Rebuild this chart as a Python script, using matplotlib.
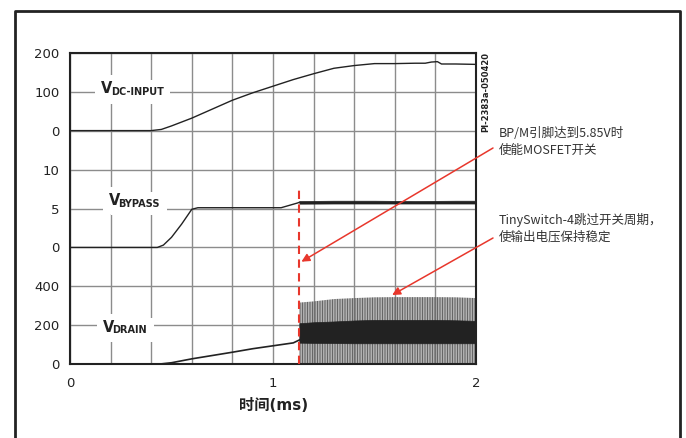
import matplotlib
matplotlib.use("Agg")
import matplotlib.pyplot as plt
from matplotlib.lines import Line2D

plt.rcParams["font.family"] = ["DejaVu Sans", "Noto Sans CJK SC"]
plt.rcParams["hatch.linewidth"] = 0.85

# ---- traces (time in ms, voltage in V) ----
t_dc = [0.0, 0.40, 0.45, 0.50, 0.55, 0.60, 0.70, 0.80, 0.90, 1.00, 1.10, 1.20,
        1.30, 1.40, 1.50, 1.60, 1.70, 1.75, 1.78, 1.81, 1.83, 1.90, 2.00]
v_dc = [0, 0, 3, 12, 22, 32, 55, 78, 97, 114, 131, 146,
        160, 167, 172, 172, 173, 173, 176, 177, 171, 171, 170]

t_bp = [0.0, 0.43, 0.46, 0.50, 0.55, 0.60, 0.63, 0.80, 1.00, 1.04, 1.08, 1.12, 1.13]
v_bp = [0, 0, 0.3, 1.3, 3.0, 4.9, 5.1, 5.1, 5.1, 5.1, 5.4, 5.7, 5.8]

# bypass ripple once the MOSFET is switching
t_bp_sw = [1.13, 1.30, 1.50, 1.70, 1.90, 2.00]
bp_lo = [5.62, 5.64, 5.64, 5.64, 5.64, 5.64]
bp_hi = [5.96, 6.00, 6.00, 5.96, 6.00, 6.00]

t_dr = [0.0, 0.43, 0.50, 0.60, 0.70, 0.80, 0.90, 1.00, 1.10, 1.13]
v_dr = [0, 0, 8, 28, 45, 62, 80, 95, 110, 125]

# drain switching envelopes
t_sw = [1.13, 1.20, 1.30, 1.40, 1.50, 1.60, 1.70, 1.80, 1.90, 2.00]
dr_peak = [317, 323, 335, 340, 344, 345, 345, 345, 344, 340]
dr_band_hi = [211, 216, 220, 225, 228, 228, 228, 228, 226, 223]
dr_band_lo = [111, 110, 109, 108, 108, 108, 108, 108, 108, 108]

t_enable = 1.127  # BP/M reaches 5.85 V

# stacked-panel layout: each panel occupies two grid rows
DC_BASE, DC_SCALE = 6, 100.0
BP_BASE, BP_SCALE = 3, 5.0
DR_BASE, DR_SCALE = 0, 200.0

y_tick_rows = [0, 1, 2, 3, 4, 5, 6, 7, 8]
y_tick_labels = ["0", "200", "400", "0", "5", "10", "0", "100", "200"]
x_ticks = [0, 0.2, 0.4, 0.6, 0.8, 1.0, 1.2, 1.4, 1.6, 1.8, 2.0]
x_tick_labels = ["0", "", "", "", "", "1", "", "", "", "", "2"]


def to_row(vals, base, scale):
    return [base + v / scale for v in vals]


W, H = 686, 438
fig = plt.figure(figsize=(W / 100, H / 100), dpi=100)
ax = fig.add_axes([70 / W, 1 - 364.3 / H, 406 / W, 311.6 / H])


def fpx(x, y):
    return (x / W, 1 - y / H)


ink = "#222222"
red = "#e8372c"

ax.set_xlim(0, 2)
ax.set_ylim(0, 8)
ax.set_xticks(x_ticks)
ax.set_xticklabels(x_tick_labels)
ax.set_yticks(y_tick_rows)
ax.set_yticklabels(y_tick_labels)
ax.tick_params(axis="both", length=0, labelsize=9.5, labelcolor=ink)
ax.tick_params(axis="x", pad=9)
ax.tick_params(axis="y", pad=7.5)
ax.set_axisbelow(True)
ax.grid(True, color="#8c8c8c", linewidth=1.0)
for s in ax.spines.values():
    s.set_linewidth(1.5)
    s.set_color(ink)

# DC input
ax.plot(t_dc, to_row(v_dc, DC_BASE, DC_SCALE), color=ink, lw=1.0, zorder=3)

# bypass
ax.plot(t_bp, to_row(v_bp, BP_BASE, BP_SCALE), color=ink, lw=1.0, zorder=3)
ax.fill_between(t_bp_sw, to_row(bp_lo, BP_BASE, BP_SCALE),
                to_row(bp_hi, BP_BASE, BP_SCALE), color=ink, lw=0.5, zorder=3)

# drain
ax.plot(t_dr, to_row(v_dr, DR_BASE, DR_SCALE), color=ink, lw=1.2, zorder=3)
ax.fill_between(t_sw, [DR_BASE] * len(t_sw), to_row(dr_peak, DR_BASE, DR_SCALE),
                facecolor="none", edgecolor="#666666", hatch="|" * 10,
                linewidth=0, zorder=2)
ax.fill_between(t_sw, to_row(dr_band_lo, DR_BASE, DR_SCALE),
                to_row(dr_band_hi, DR_BASE, DR_SCALE),
                color=ink, lw=0.5, zorder=3)

# enable marker
ax.plot([t_enable, t_enable], [0, 4.53], color=red, lw=1.5,
        ls=(0, (4, 2.6)), zorder=4, clip_on=False)

# trace labels: white knock-out boxes first, then the lettering on top
box = dict(boxstyle="square,pad=0.4", fc="white", ec="none")
sub_box = dict(boxstyle="square,pad=0.7", fc="white", ec="none")


def trace_label(x, row, sub):
    main_kw = dict(fontsize=10.5, weight="bold", va="baseline", ha="left")
    sub_kw = dict(xy=(1, 0), xytext=(-1.2, -0.4), textcoords="offset points",
                  fontsize=7, weight="bold", va="bottom", ha="left")
    vb = ax.text(x, row, "V", color="white", bbox=box, zorder=5, **main_kw)
    ax.annotate(sub, xycoords=vb, color="white", bbox=sub_box, zorder=5,
                **sub_kw)
    v = ax.text(x, row, "V", color=ink, zorder=6, **main_kw)
    ax.annotate(sub, xycoords=v, color=ink, zorder=6, **sub_kw)


trace_label(0.153, 6.958, "DC-INPUT")
trace_label(0.190, 4.09, "BYPASS")
trace_label(0.161, 0.837, "DRAIN")

# figure id
fig.text(*fpx(486, 52), "PI-2383a-050420", rotation=90, fontsize=6,
         weight="bold", color=ink, ha="center", va="top")

# callouts
note_font = dict(family=["Noto Sans CJK SC"], fontsize=9, color="#333333",
                 ha="left", va="center")
fig.text(*fpx(499, 133.3), "BP/M引脚达到5.85V时", **note_font)
fig.text(*fpx(499, 150.5), "使能MOSFET开关", **note_font)
fig.text(*fpx(499, 220), "TinySwitch-4跳过开关周期，", **note_font)
fig.text(*fpx(499, 236.7), "使输出电压保持稳定", **note_font)

arrow = dict(arrowstyle="-|>", color=red, lw=1.1, mutation_scale=12,
             shrinkA=0, shrinkB=0)
ax.annotate("", xy=(1.14, 2.634), xycoords="data",
            xytext=(493, H - 148), textcoords="figure pixels",
            arrowprops=arrow, annotation_clip=False)
ax.annotate("", xy=(1.587, 1.779), xycoords="data",
            xytext=(493, H - 238), textcoords="figure pixels",
            arrowprops=arrow, annotation_clip=False)

# x axis title
fig.text(*fpx(274, 405), "时间(ms)", fontsize=11, weight="bold", color=ink,
         ha="center", va="center")

# outer frame
fig.add_artist(Line2D([14.7 / W, 14.7 / W, 680 / W, 680 / W],
                      [-0.02, 1 - 10.5 / H, 1 - 10.5 / H, -0.02],
                      transform=fig.transFigure, color=ink, lw=2.0))

fig.savefig("out.png", dpi=100)
